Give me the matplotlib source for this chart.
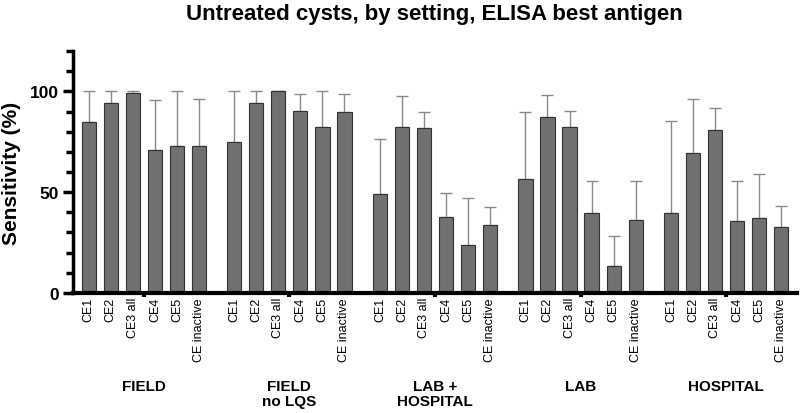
import numpy as np
import matplotlib.pyplot as plt

plt.rcParams['font.family'] = ['Liberation Sans', 'DejaVu Sans']

# categorias e grupos
categorias = ['CE1', 'CE2', 'CE3 all', 'CE4', 'CE5', 'CE inactive']
grupos = ['FIELD', 'FIELD\nno LQS', 'LAB +\nHOSPITAL', 'LAB', 'HOSPITAL']

# sensibilidade (%) e limite superior do intervalo
field = [85, 94.4, 99.4, 71.1, 72.8, 72.8]
field_sup = [100, 100, 100, 95.7, 100, 96.2]
field_nolqs = [75, 94.4, 100, 90.5, 82.4, 89.9]
field_nolqs_sup = [100, 100, 100, 98.5, 100, 98.8]
labhosp = [49.3, 82.3, 81.9, 37.7, 23.7, 33.5]
labhosp_sup = [76.3, 97.9, 89.6, 49.8, 47.1, 42.5]
lab = [56.7, 87.4, 82.3, 39.5, 13.3, 36.3]
lab_sup = [90, 98.2, 90.5, 55.4, 28.5, 55.7]
hospital = [39.8, 69.7, 80.9, 35.7, 37.3, 32.5]
hospital_sup = [85.2, 96.5, 91.9, 55.7, 59.2, 43.3]

valores = [field, field_nolqs, labhosp, lab, hospital]
superiores = [field_sup, field_nolqs_sup, labhosp_sup, lab_sup, hospital_sup]

passo_grupo = 6.61
fig = plt.figure(figsize=(8, 4.14), dpi=100)
ax = fig.add_axes([0.0915, 0.29, 0.905, 0.584])

xs_todos, rotulos, seps = [], [], []
for g, (v, s) in enumerate(zip(valores, superiores)):
    x = np.arange(len(categorias)) + g * passo_grupo
    v = np.array(v)
    s = np.array(s)
    ax.bar(x, v, width=0.64, color='#707070', edgecolor='#333333', linewidth=0.8, zorder=2)
    ax.errorbar(x, v, yerr=[np.zeros_like(v), s - v], fmt='none', ecolor='#8a8a8a',
                elinewidth=1.0, capsize=4, capthick=1.0, zorder=1)
    xs_todos += list(x)
    rotulos += categorias
    seps.append(x[2] + 0.5)
    ax.text(x.mean(), -42.5, grupos[g], ha='center', va='top', fontsize=11,
            fontweight='bold', linespacing=1.15)

ax.set_xticks(xs_todos)
ax.set_xticklabels(rotulos, rotation=90, fontsize=9)
ax.tick_params(axis='x', length=0, pad=3)
ax.set_xticks(seps, minor=True)
ax.tick_params(axis='x', which='minor', length=3, width=3, color='black')

ax.set_xlim(-0.71, xs_todos[-1] + 0.73)
ax.set_ylim(0, 120)
ax.set_yticks([0, 50, 100])
ax.set_yticks(np.arange(0, 121, 10), minor=True)
ax.tick_params(axis='y', which='major', length=7, width=2.5, labelsize=12.5)
ax.tick_params(axis='y', which='minor', length=5, width=2.5)
for rot in ax.get_yticklabels():
    rot.set_fontweight('bold')
ax.set_ylabel('Sensitivity (%)', fontsize=15, fontweight='bold', labelpad=6)

for lado in ['top', 'right']:
    ax.spines[lado].set_visible(False)
ax.spines['left'].set_linewidth(2.5)
ax.spines['bottom'].set_linewidth(3)

fig.suptitle('Untreated cysts, by setting, ELISA best antigen', x=0.543, y=0.99,
             fontsize=16, fontweight='bold')

fig.savefig('out.png', dpi=100)
